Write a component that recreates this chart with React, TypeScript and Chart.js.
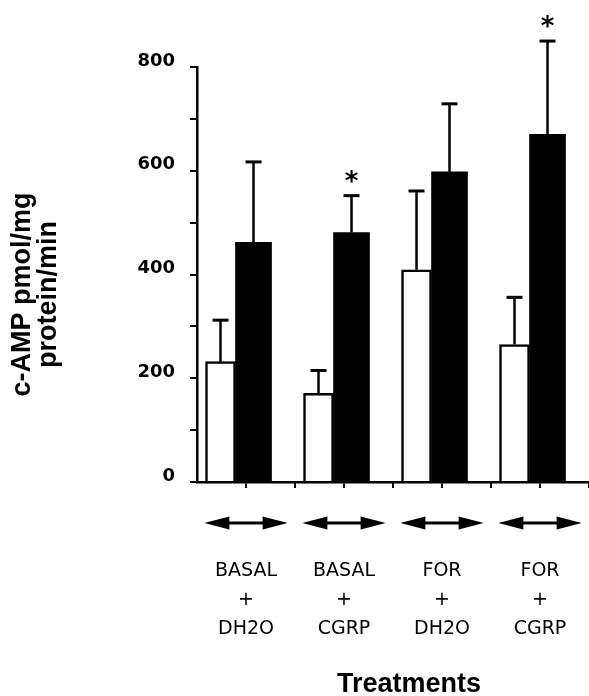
import React, { useEffect, useRef } from 'react';
import { Chart, registerables } from 'chart.js';

Chart.register(...registerables);

// ---- data ----
const categories: string[][] = [
  ['BASAL', '+', 'DH2O'],
  ['BASAL', '+', 'CGRP'],
  ['FOR', '+', 'DH2O'],
  ['FOR', '+', 'CGRP'],
];
const controlMeans = [232, 171, 409, 265];
const controlSEM = [80, 44, 152, 91];
const treatedMeans = [462, 481, 598, 670];
const treatedSEM = [155, 71, 131, 180];
const treatedSignificant = [false, true, false, true];
const yMin = 0;
const yMax = 800;
const yTickStep = 100;
const yLabelStep = 200;
const yTitleLines = ['c-AMP pmol/mg', 'protein/min'];
const xTitle = 'Treatments';

// bar groups sit slightly left of the label centre (fraction of a category)
const BAR_SHIFT = 0.107;

const overlayPlugin = {
  id: 'overlay',
  afterDatasetsDraw(chart: any) {
    const ctx = chart.ctx as CanvasRenderingContext2D;
    const ys = chart.scales.y;
    chart.data.datasets.forEach((ds: any, di: number) => {
      const meta = chart.getDatasetMeta(di);
      meta.data.forEach((bar: any, i: number) => {
        const v = ds.data[i].y;
        const top = ys.getPixelForValue(v + ds.errors[i]);
        ctx.save();
        ctx.strokeStyle = '#000';
        ctx.lineWidth = 2.5;
        ctx.beginPath();
        ctx.moveTo(bar.x, bar.y);
        ctx.lineTo(bar.x, top);
        ctx.stroke();
        ctx.lineWidth = 3;
        ctx.beginPath();
        ctx.moveTo(bar.x - 8, top);
        ctx.lineTo(bar.x + 8, top);
        ctx.stroke();
        if (ds.stars && ds.stars[i]) {
          ctx.fillStyle = '#000';
          ctx.font = 'bold 26px "DejaVu Sans"';
          ctx.textAlign = 'center';
          ctx.textBaseline = 'alphabetic';
          ctx.fillText('*', bar.x, top - 6);
        }
        ctx.restore();
      });
    });
  },
  afterDraw(chart: any) {
    const ctx = chart.ctx as CanvasRenderingContext2D;
    const xs = chart.scales.x;
    const area = chart.chartArea;
    const n = chart.data.labels.length;
    const cw = xs.getPixelForValue(1) - xs.getPixelForValue(0);
    ctx.save();
    ctx.strokeStyle = '#000';
    ctx.fillStyle = '#000';
    // boundary tick marks
    ctx.lineWidth = 2;
    for (let i = 0; i < n; i++) {
      const bx = xs.getPixelForValue(i) + cw / 2;
      ctx.beginPath();
      ctx.moveTo(bx, area.bottom);
      ctx.lineTo(bx, area.bottom + 6);
      ctx.stroke();
    }
    // double-headed arrows under each group
    const ay = area.bottom + 41;
    const half = cw * 0.425;
    const head = 25;
    const hh = 6.5;
    for (let i = 0; i < n; i++) {
      const cx = xs.getPixelForValue(i);
      ctx.lineWidth = 3;
      ctx.beginPath();
      ctx.moveTo(cx - half + head - 2, ay);
      ctx.lineTo(cx + half - head + 2, ay);
      ctx.stroke();
      ctx.beginPath();
      ctx.moveTo(cx - half, ay);
      ctx.lineTo(cx - half + head, ay - hh);
      ctx.lineTo(cx - half + head, ay + hh);
      ctx.closePath();
      ctx.fill();
      ctx.beginPath();
      ctx.moveTo(cx + half, ay);
      ctx.lineTo(cx + half - head, ay - hh);
      ctx.lineTo(cx + half - head, ay + hh);
      ctx.closePath();
      ctx.fill();
    }
    // y axis title
    const cy = (area.top + area.bottom) / 2 + 20;
    ctx.font = 'bold 27px "Liberation Sans"';
    ctx.textAlign = 'center';
    ctx.textBaseline = 'middle';
    const xsPos = [23, 49];
    yTitleLines.forEach((t, i) => {
      ctx.save();
      ctx.translate(xsPos[i], cy);
      ctx.rotate(-Math.PI / 2);
      ctx.fillText(t, 0, 0);
      ctx.restore();
    });
    // x axis title
    ctx.font = 'bold 27px "Liberation Sans"';
    ctx.textAlign = 'center';
    ctx.textBaseline = 'alphabetic';
    ctx.fillText(xTitle, (area.left + area.right) / 2 + 16, chart.height - 4);
    ctx.restore();
  },
};

export default function App() {
  const ref = useRef<HTMLCanvasElement | null>(null);
  useEffect(() => {
    if (!ref.current) return;
    const chart = new Chart(ref.current, {
      type: 'bar',
      data: {
        labels: categories as any,
        datasets: [
          {
            label: 'Control',
            data: controlMeans.map((v, i) => ({ x: i, y: v })),
            backgroundColor: '#ffffff',
            borderColor: '#000000',
            borderWidth: 2.5,
            barThickness: 30,
            xAxisID: 'xb',
            yAxisID: 'y',
            errors: controlSEM,
          } as any,
          {
            label: 'CGRP',
            data: treatedMeans.map((v, i) => ({ x: i, y: v })),
            backgroundColor: '#000000',
            borderColor: '#000000',
            borderWidth: 0,
            barThickness: 36,
            xAxisID: 'xb',
            yAxisID: 'y',
            errors: treatedSEM,
            stars: treatedSignificant,
          } as any,
        ],
      },
      options: {
        animation: false,
        responsive: false,
        devicePixelRatio: 1,
        layout: { padding: { top: 67, left: 0, right: 0, bottom: 0 } },
        plugins: { legend: { display: false }, tooltip: { enabled: false } },
        scales: {
          x: {
            type: 'category',
            position: 'bottom',
            offset: true,
            afterFit: (s: any) => {
              s.height = 214;
              s.paddingLeft = 0;
              s.paddingRight = 0;
            },
            grid: {
              display: true,
              drawOnChartArea: false,
              drawTicks: true,
              tickLength: 6,
              color: '#000',
              lineWidth: 2,
              offset: false,
            },
            border: { display: true, color: '#000', width: 2.5 },
            ticks: {
              color: '#000',
              font: { family: '"DejaVu Sans"', size: 19, lineHeight: 29 / 19 },
              padding: 68.5,
              maxRotation: 0,
              autoSkip: false,
            },
            title: { display: false },
          },
          xb: {
            type: 'linear',
            display: false,
            offset: false,
            min: -0.5 + BAR_SHIFT,
            max: categories.length - 0.5 + BAR_SHIFT,
          },
          y: {
            type: 'linear',
            position: 'left',
            min: yMin,
            max: yMax,
            afterFit: (s: any) => {
              s.width = 197;
              s.paddingTop = 0;
              s.paddingBottom = 0;
            },
            grid: {
              display: true,
              drawOnChartArea: false,
              drawTicks: true,
              tickLength: 7,
              color: '#000',
              lineWidth: 2,
            },
            border: { display: true, color: '#000', width: 2.5 },
            ticks: {
              stepSize: yTickStep,
              color: '#000',
              font: { family: '"DejaVu Sans"', size: 18, weight: 'bold' },
              padding: 15,
              labelOffset: -6,
              callback: (v: any) => (Number(v) % yLabelStep === 0 ? String(v) : ''),
            },
          },
        },
      } as any,
      plugins: [overlayPlugin],
    });
    return () => chart.destroy();
  }, []);
  return (
    <div style={{ position: 'fixed', left: 0, top: 0, width: 589, height: 696, background: '#fff' }}>
      <canvas ref={ref} width={589} height={696} style={{ display: 'block' }} />
    </div>
  );
}
